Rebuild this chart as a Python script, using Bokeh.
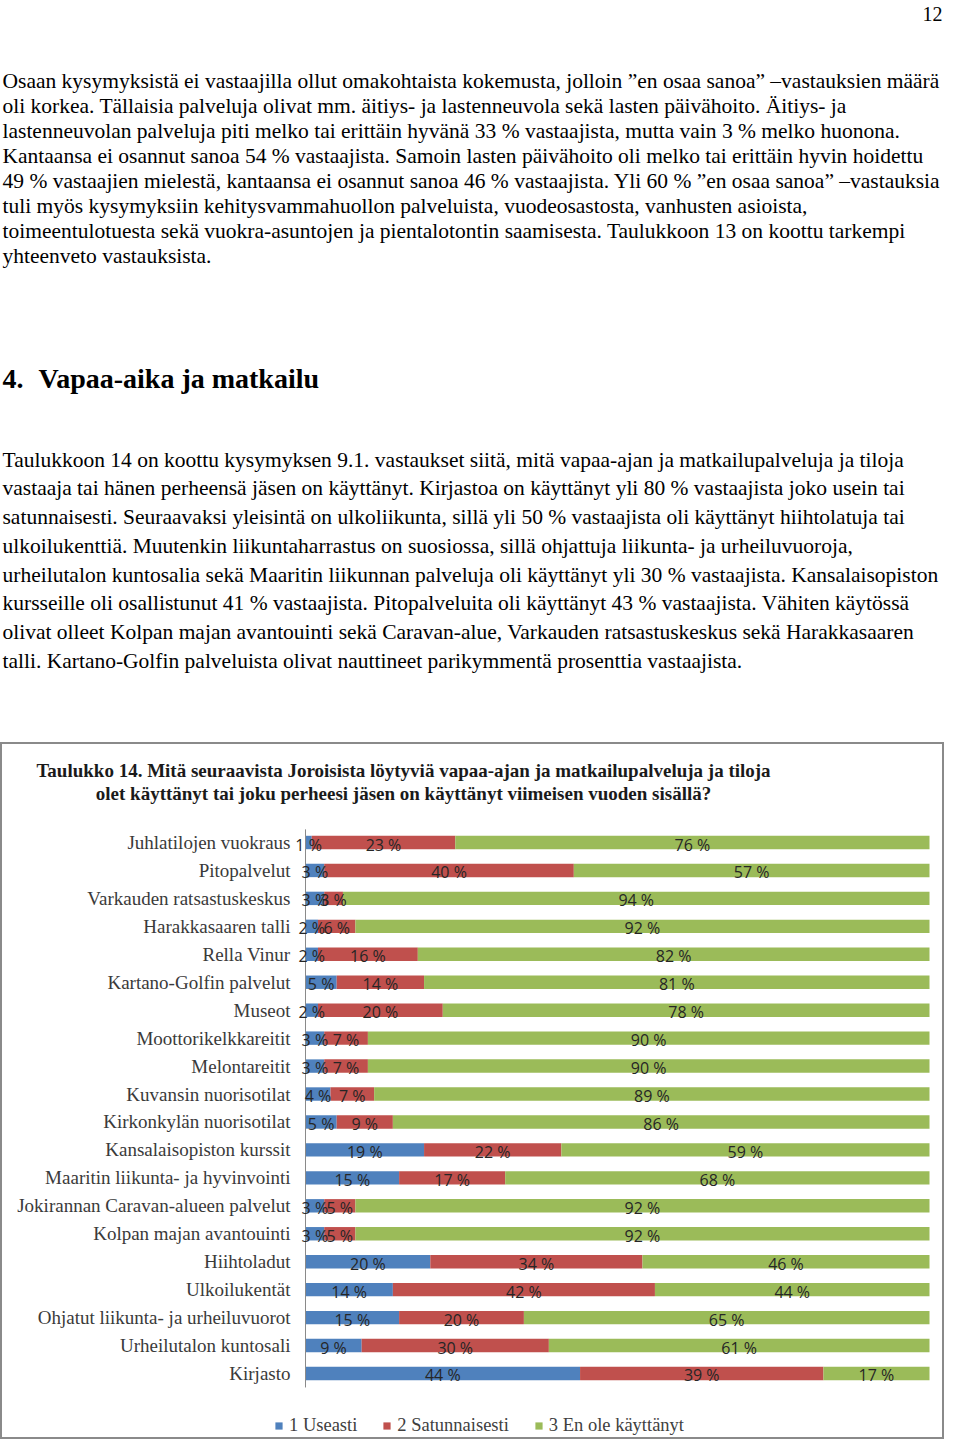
from bokeh.plotting import figure
from bokeh.models import Range1d, ColumnDataSource, Legend, LegendItem
from bokeh.layouts import column
from bokeh.core.properties import value
from bokeh.embed import file_html
from bokeh.resources import INLINE

# ---------------- data ----------------
categories = [
    "Juhlatilojen vuokraus", "Pitopalvelut", "Varkauden ratsastuskeskus",
    "Harakkasaaren talli", "Rella Vinur", "Kartano-Golfin palvelut", "Museot",
    "Moottorikelkkareitit", "Melontareitit", "Kuvansin nuorisotilat",
    "Kirkonkylän nuorisotilat", "Kansalaisopiston kurssit",
    "Maaritin liikunta- ja hyvinvointi", "Jokirannan Caravan-alueen palvelut",
    "Kolpan majan avantouinti", "Hiihtoladut", "Ulkoilukentät",
    "Ohjatut liikunta- ja urheiluvuorot", "Urheilutalon kuntosali", "Kirjasto",
]
useasti = [1, 3, 3, 2, 2, 5, 2, 3, 3, 4, 5, 19, 15, 3, 3, 20, 14, 15, 9, 44]
satunnaisesti = [23, 40, 3, 6, 16, 14, 20, 7, 7, 7, 9, 22, 17, 5, 5, 34, 42, 20, 30, 39]
en_ole = [76, 57, 94, 92, 82, 81, 78, 90, 90, 89, 86, 59, 68, 92, 92, 46, 44, 65, 61, 17]
series_names = ["1 Useasti", "2 Satunnaisesti", "3 En ole käyttänyt"]

chart_title = [
    "Taulukko 14. Mitä seuraavista Joroisista löytyviä vapaa-ajan ja matkailupalveluja ja tiloja",
    "olet käyttänyt tai joku perheesi jäsen on käyttänyt viimeisen vuoden sisällä?",
]

page_number = "12"
para1 = [
    "Osaan kysymyksistä ei vastaajilla ollut omakohtaista kokemusta, jolloin ”en osaa sanoa” –vastauksien määrä",
    "oli korkea. Tällaisia palveluja olivat mm. äitiys- ja lastenneuvola sekä lasten päivähoito. Äitiys- ja",
    "lastenneuvolan palveluja piti melko tai erittäin hyvänä 33 % vastaajista, mutta vain 3 % melko huonona.",
    "Kantaansa ei osannut sanoa 54 % vastaajista. Samoin lasten päivähoito oli melko tai erittäin hyvin hoidettu",
    "49 % vastaajien mielestä, kantaansa ei osannut sanoa 46 % vastaajista. Yli 60 % ”en osaa sanoa” –vastauksia",
    "tuli myös kysymyksiin kehitysvammahuollon palveluista, vuodeosastosta, vanhusten asioista,",
    "toimeentulotuesta sekä vuokra-asuntojen ja pientalotontin saamisesta. Taulukkoon 13 on koottu tarkempi",
    "yhteenveto vastauksista.",
]
heading_num = "4."
heading_text = "Vapaa-aika ja matkailu"
para2 = [
    "Taulukkoon 14 on koottu kysymyksen 9.1. vastaukset siitä, mitä vapaa-ajan ja matkailupalveluja ja tiloja",
    "vastaaja tai hänen perheensä jäsen on käyttänyt. Kirjastoa on käyttänyt yli 80 % vastaajista joko usein tai",
    "satunnaisesti. Seuraavaksi yleisintä on ulkoliikunta, sillä yli 50 % vastaajista oli käyttänyt hiihtolatuja tai",
    "ulkoilukenttiä. Muutenkin liikuntaharrastus on suosiossa, sillä ohjattuja liikunta- ja urheiluvuoroja,",
    "urheilutalon kuntosalia sekä Maaritin liikunnan palveluja oli käyttänyt yli 30 % vastaajista. Kansalaisopiston",
    "kursseille oli osallistunut 41 % vastaajista. Pitopalveluita oli käyttänyt 43 % vastaajista. Vähiten käytössä",
    "olivat olleet Kolpan majan avantouinti sekä Caravan-alue, Varkauden ratsastuskeskus sekä Harakkasaaren",
    "talli. Kartano-Golfin palveluista olivat nauttineet parikymmentä prosenttia vastaajista.",
]

# ---------------- styles ----------------
SERIF = "Liberation Serif"
BODY_SIZE = "21.5px"
colors = ["#4F81BD", "#C0504D", "#9BBB59"]

# ---------------- text (document) figure ----------------
PW = 944
TH = 742
pt = figure(width=PW, height=TH, x_range=Range1d(0, PW), y_range=Range1d(TH, 0),
            output_backend="svg", toolbar_location=None, min_border=0,
            x_axis_location=None, y_axis_location=None, title=None)
pt.grid.visible = False
pt.outline_line_color = None
pt.background_fill_color = "white"

pt.text(x=[PW - 2], y=[13], text=[page_number], text_font=value(SERIF),
        text_font_size="20px", text_align="right", text_baseline="alphabetic",
        text_color="black")

p1_y = [80 + 25 * i for i in range(len(para1))]
pt.text(x=[2] * len(para1), y=p1_y, text=para1, text_font=value(SERIF),
        text_font_size=BODY_SIZE, text_align="left", text_baseline="alphabetic",
        text_color="black")

pt.text(x=[2], y=[378], text=[heading_num], text_font=value(SERIF),
        text_font_size="28px", text_font_style="bold", text_align="left",
        text_baseline="alphabetic", text_color="black")
pt.text(x=[38], y=[378], text=[heading_text], text_font=value(SERIF),
        text_font_size="28px", text_font_style="bold", text_align="left",
        text_baseline="alphabetic", text_color="black")

p2_y = [459 + 28.75 * i for i in range(len(para2))]
pt.text(x=[2] * len(para2), y=p2_y, text=para2, text_font=value(SERIF),
        text_font_size=BODY_SIZE, text_align="left", text_baseline="alphabetic",
        text_color="black")

# ---------------- chart figure ----------------
CH = 697
BAR_LEFT, BAR_RIGHT = 305, 929          # pixel positions of 0 % and 100 %
FIRST_Y, STEP = 100, 27.947             # pixel centre of first row, row step
ppu = (BAR_RIGHT - BAR_LEFT) / 100.0
x_start = -BAR_LEFT / ppu
x_end = (PW - BAR_LEFT) / ppu
y_top = -FIRST_Y / STEP
y_bot = (CH - FIRST_Y) / STEP

n = len(categories)
idx = list(range(n))

p = figure(width=PW, height=CH, x_range=Range1d(x_start, x_end),
           y_range=Range1d(y_bot, y_top), output_backend="svg",
           toolbar_location=None, min_border=0, x_axis_location=None,
           y_axis_location=None, title=None)
p.grid.visible = False
p.outline_line_color = "#8a8a8a"
p.outline_line_width = 3
p.background_fill_color = "white"
p.extra_x_ranges = {"px": Range1d(0, PW)}
p.extra_y_ranges = {"px": Range1d(CH, 0)}

src = ColumnDataSource(dict(y=idx, s1=useasti, s2=satunnaisesti, s3=en_ole))
rs = p.hbar_stack(["s1", "s2", "s3"], y="y", height=0.48, color=colors,
                  line_color=None, source=src)

# axis line
p.segment(x0=[0], y0=[-0.47], x1=[0], y1=[n - 0.5], line_color="#8a8a8a", line_width=1)

# category labels
p.text(x=[0] * n, y=idx, text=categories, x_offset=-15, text_font=value(SERIF),
       text_font_size="19px", text_align="right", text_baseline="middle",
       text_color="#3a3a3a")

# data labels
lx, ly, lt = [], [], []
for i in idx:
    left = 0
    for vals in (useasti, satunnaisesti, en_ole):
        v = vals[i]
        lx.append(left + v / 2.0)
        ly.append(i)
        lt.append(f"{v} %")
        left += v
p.text(x=lx, y=ly, text=lt, y_offset=2, text_font=value("Open Sans"),
       text_font_size="16px", text_align="center", text_baseline="middle",
       text_color="#262626")

# chart title
p.text(x=[403, 403], y=[28, 51], text=chart_title, x_range_name="px", y_range_name="px",
       text_font=value(SERIF), text_font_size="19px", text_font_style="bold",
       text_align="center", text_baseline="alphabetic", text_color="#1a1a1a")

legend = Legend(items=[LegendItem(label=series_names[k], renderers=[rs[k]]) for k in range(3)],
                orientation="horizontal", location=(274, 3))
legend.background_fill_alpha = 0
legend.border_line_alpha = 0
legend.padding = 0
legend.margin = 0
legend.spacing = 25
legend.glyph_width = 9
legend.glyph_height = 9
legend.label_height = 9
legend.label_standoff = 6
legend.label_text_font = SERIF
legend.label_text_font_size = "18.5px"
legend.label_text_color = "#404040"
legend.label_text_baseline = "middle"
p.add_layout(legend)

layout = column(pt, p, spacing=0)
open("out.html", "w").write(file_html(layout, INLINE))
